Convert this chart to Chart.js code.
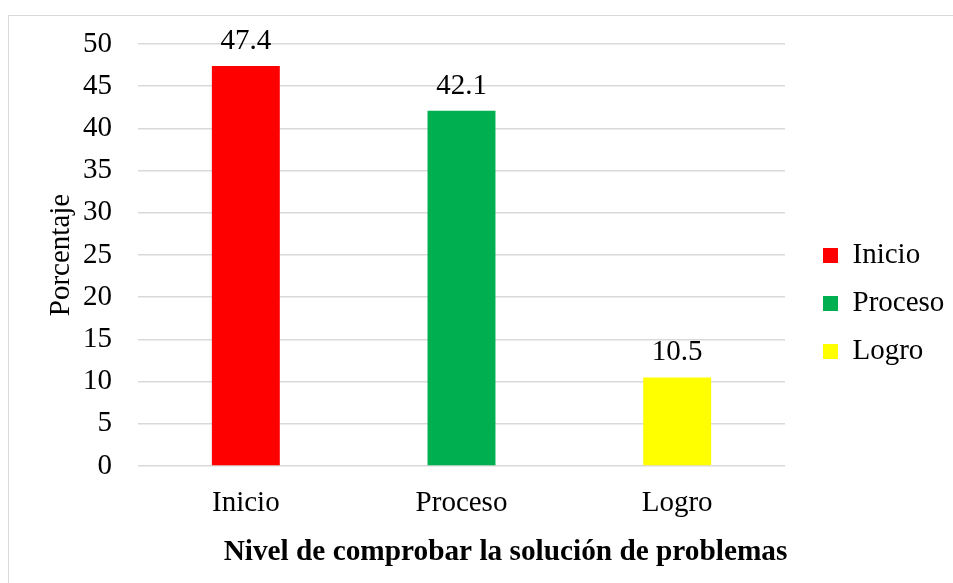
<!DOCTYPE html>
<html>
<head>
<meta charset="utf-8">
<script src="https://cdn.jsdelivr.net/npm/chart.js@4/dist/chart.umd.min.js"></script>
<style>
    html, body { margin: 0; padding: 0; background: #fff; }
    #wrap { position: relative; width: 953px; height: 583px; overflow: hidden; }
    #frame { position: absolute; left: 8px; top: 15px; width: 1000px; height: 1000px;
             border: 1.5px solid #d9d9d9; pointer-events: none; }
</style>
</head>
<body>
<div id="wrap">
    <div id="frame"></div>
    <canvas id="nivelChart"></canvas>
</div>
<script>
// Data
const categories = ['Inicio', 'Proceso', 'Logro'];
const porcentajes = [47.4, 42.1, 10.5];
const barColors = ['#FF0000', '#00B050', '#FFFF00'];
const yMin = 0;
const yMax = 50;
const yStep = 5;
const yAxisTitle = 'Porcentaje';
const xAxisTitle = 'Nivel de comprobar la solución de problemas';

const FONT = '"Liberation Serif", "Times New Roman", serif';

// Value labels above each bar
const barLabels = {
    id: 'barLabels',
    afterDatasetsDraw(chart) {
        const ctx = chart.ctx;
        const meta = chart.getDatasetMeta(0);
        ctx.save();
        ctx.font = '29px ' + FONT;
        ctx.fillStyle = '#000';
        ctx.textAlign = 'center';
        ctx.textBaseline = 'alphabetic';
        meta.data.forEach((bar, i) => {
            ctx.fillText(porcentajes[i].toFixed(1), bar.x, bar.y - 17);
        });
        ctx.restore();
    }
};

// Bold axis title under the category labels
const bottomTitle = {
    id: 'bottomTitle',
    afterDraw(chart) {
        const ctx = chart.ctx;
        const area = chart.chartArea;
        ctx.save();
        ctx.font = 'bold 29.3px ' + FONT;
        ctx.fillStyle = '#000';
        ctx.textAlign = 'center';
        ctx.textBaseline = 'alphabetic';
        ctx.fillText(xAxisTitle, (area.left + area.right) / 2 + 44, area.bottom + 94);
        ctx.restore();
    }
};

const ctx = document.getElementById('nivelChart');
new Chart(ctx, {
    type: 'bar',
    data: {
        labels: categories,
        datasets: [{
            label: yAxisTitle,
            data: porcentajes,
            backgroundColor: barColors,
            borderWidth: 0,
            categoryPercentage: 1,
            barPercentage: 0.315
        }]
    },
    options: {
        responsive: true,
        maintainAspectRatio: false,
        animation: false,
        layout: {
            padding: { top: 44, right: 0, bottom: 20, left: 0 }
        },
        plugins: {
            tooltip: { enabled: false },
            legend: {
                position: 'right',
                maxWidth: 149,
                labels: {
                    boxWidth: 15,
                    boxHeight: 15,
                    padding: 19,
                    color: '#000',
                    font: { family: FONT, size: 29 },
                    generateLabels: function(chart) {
                        return categories.map((c, i) => ({
                            text: c,
                            fillStyle: barColors[i],
                            strokeStyle: barColors[i],
                            lineWidth: 0,
                            hidden: false,
                            index: i
                        }));
                    }
                }
            }
        },
        scales: {
            x: {
                grid: { display: false },
                border: { display: false },
                ticks: {
                    color: '#000',
                    padding: 12,
                    font: { family: FONT, size: 29 }
                },
                afterFit(scale) { scale.height = 97; }
            },
            y: {
                min: yMin,
                max: yMax,
                grid: { color: '#d9d9d9', lineWidth: 1.5, drawTicks: false },
                border: { display: false },
                ticks: {
                    stepSize: yStep,
                    color: '#000',
                    padding: 26,
                    font: { family: FONT, size: 29 }
                },
                title: {
                    display: true,
                    text: yAxisTitle,
                    color: '#000',
                    padding: { top: 44, bottom: 0 },
                    font: { family: FONT, size: 29 }
                },
                afterFit(scale) { scale.width = 138; }
            },
            // empty axis that only keeps the gap between plot and legend
            gap: {
                type: 'linear',
                position: 'right',
                grid: { display: false },
                border: { display: false },
                ticks: { display: false },
                afterFit(scale) { scale.width = 19; }
            }
        }
    },
    plugins: [barLabels, bottomTitle]
});
</script>
</body>
</html>
